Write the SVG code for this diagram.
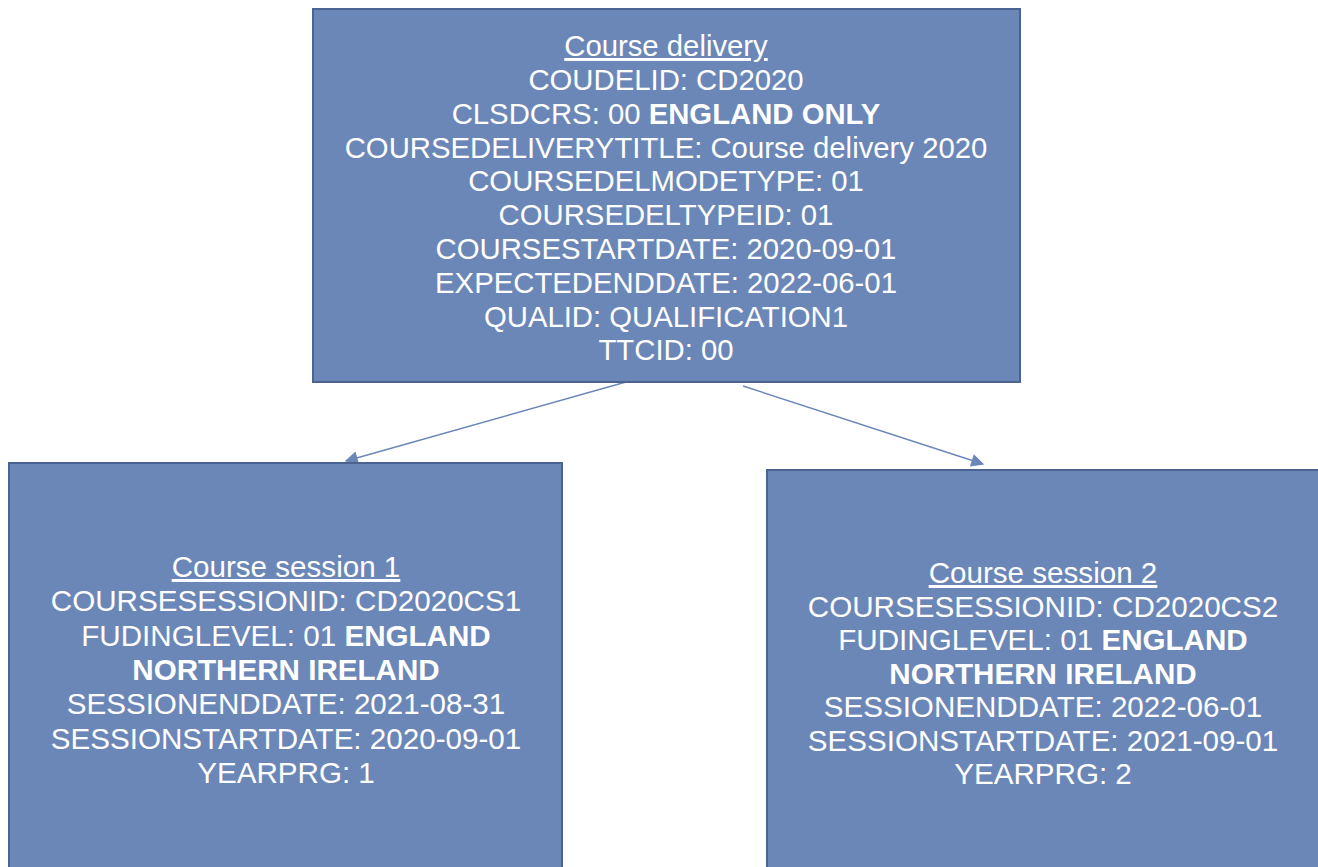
<svg xmlns="http://www.w3.org/2000/svg" width="1318" height="867" viewBox="0 0 1318 867">
<style>
.box{fill:#6b87b8;stroke:#4a6390;stroke-width:2}
.t{font-family:"Liberation Sans",Arial,sans-serif;font-size:29.6px;fill:#ffffff;text-anchor:middle}
.tt{font-size:29.3px}
.b{font-weight:bold}
.u{text-decoration:underline}
.c{stroke:#6b87b8;stroke-width:1.5;fill:none}
</style>
<defs>
<marker id="ah" viewBox="0 0 10 10" refX="9" refY="5" markerWidth="16" markerHeight="13" markerUnits="userSpaceOnUse" orient="auto">
<path d="M0,0 L10,5 L0,10 z" fill="#6b87b8"/>
</marker>
</defs>
<rect width="1318" height="867" fill="#ffffff"/>
<g id="connectors">
<line class="c" x1="626" y1="382" x2="346" y2="461" marker-end="url(#ah)"/>
<line class="c" x1="743" y1="386" x2="983" y2="464" marker-end="url(#ah)"/>
</g>
<g id="course-delivery">
<rect class="box" x="313" y="9" width="707" height="373"/>
<text class="t tt" x="666" y="56"><tspan class="u">Course delivery</tspan></text>
<text class="t tt" x="666" y="90">COUDELID: CD2020</text>
<text class="t tt" x="666" y="123.5">CLSDCRS: 00 <tspan class="b">ENGLAND ONLY</tspan></text>
<text class="t tt" x="666" y="157.5">COURSEDELIVERYTITLE: Course delivery 2020</text>
<text class="t tt" x="666" y="191">COURSEDELMODETYPE: 01</text>
<text class="t tt" x="666" y="225">COURSEDELTYPEID: 01</text>
<text class="t tt" x="666" y="259">COURSESTARTDATE: 2020-09-01</text>
<text class="t tt" x="666" y="292.5">EXPECTEDENDDATE: 2022-06-01</text>
<text class="t tt" x="666" y="326.5">QUALID: QUALIFICATION1</text>
<text class="t tt" x="666" y="360">TTCID: 00</text>
</g>
<g id="course-session-1">
<rect class="box" x="9" y="463" width="553" height="420"/>
<text class="t" x="286" y="577"><tspan class="u">Course session 1</tspan></text>
<text class="t" x="286" y="611">COURSESESSIONID: CD2020CS1</text>
<text class="t" x="286" y="645.5">FUDINGLEVEL: 01 <tspan class="b">ENGLAND</tspan></text>
<text class="t b" x="286" y="680">NORTHERN IRELAND</text>
<text class="t" x="286" y="714">SESSIONENDDATE: 2021-08-31</text>
<text class="t" x="286" y="748.5">SESSIONSTARTDATE: 2020-09-01</text>
<text class="t" x="286" y="783">YEARPRG: 1</text>
</g>
<g id="course-session-2">
<rect class="box" x="767" y="470" width="570" height="420"/>
<text class="t" x="1043" y="583"><tspan class="u">Course session 2</tspan></text>
<text class="t" x="1043" y="616.5">COURSESESSIONID: CD2020CS2</text>
<text class="t" x="1043" y="650">FUDINGLEVEL: 01 <tspan class="b">ENGLAND</tspan></text>
<text class="t b" x="1043" y="683.5">NORTHERN IRELAND</text>
<text class="t" x="1043" y="717">SESSIONENDDATE: 2022-06-01</text>
<text class="t" x="1043" y="750.5">SESSIONSTARTDATE: 2021-09-01</text>
<text class="t" x="1043" y="784">YEARPRG: 2</text>
</g>
</svg>
